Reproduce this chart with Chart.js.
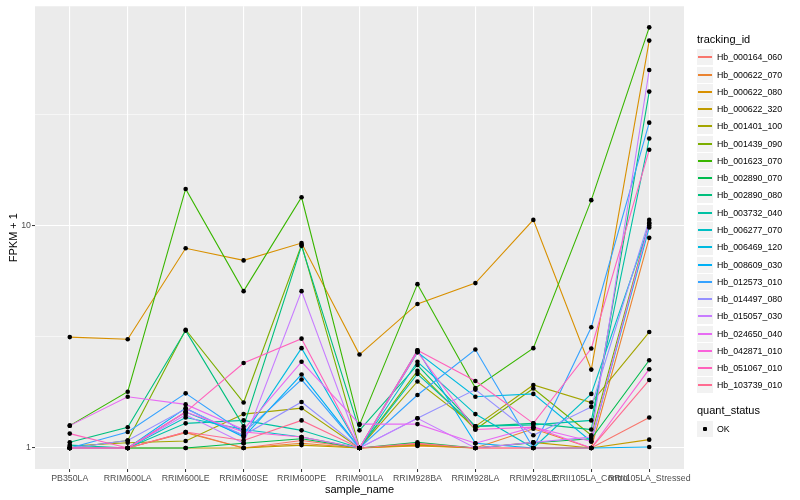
<!DOCTYPE html>
<html>
<head>
<meta charset="utf-8">
<script src="https://cdn.jsdelivr.net/npm/chart.js@4/dist/chart.umd.min.js"></script>
<style>
  html, body { margin: 0; padding: 0; background: #ffffff; }
  #wrap { position: relative; width: 800px; height: 500px; font-family: "Liberation Sans", Arial, Helvetica, sans-serif; }
  canvas { position: absolute; left: 0; top: 0; }
  .lg-title { position: absolute; left: 697px; font-size: 11px; line-height: 13px; color: #000; white-space: nowrap; }
  .lg-key { position: absolute; left: 697px; width: 16px; height: 16px; background: #F2F2F2; }
  .lg-line { position: absolute; left: 1px; right: 1px; top: 7px; height: 2px; }
  .lg-dot { position: absolute; left: 6px; top: 6px; width: 4px; height: 4px; background: #000; border-radius: 1px; }
  .lg-text { position: absolute; left: 717px; font-size: 8.8px; line-height: 10px; color: #000; white-space: nowrap; }
</style>
</head>
<body>
<div id="wrap">
  <canvas id="c" width="800" height="500"></canvas>
</div>
<script>
// ---- data ----
const samples = ["PB350LA","RRIM600LA","RRIM600LE","RRIM600SE","RRIM600PE","RRIM901LA","RRIM928BA","RRIM928LA","RRIM928LE","RRII105LA_Control","RRII105LA_Stressed"];

const trackingIds = ["Hb_000164_060","Hb_000622_070","Hb_000622_080","Hb_000622_320","Hb_001401_100","Hb_001439_090","Hb_001623_070","Hb_002890_070","Hb_002890_080","Hb_003732_040","Hb_006277_070","Hb_006469_120","Hb_008609_030","Hb_012573_010","Hb_014497_080","Hb_015057_030","Hb_024650_040","Hb_042871_010","Hb_051067_010","Hb_103739_010"];

const seriesColors = ["#F8766D","#EA8331","#D89000","#C09B00","#A3A500","#7CAE00","#39B600","#00BB4E","#00BF7D","#00C1A3","#00BFC4","#00BAE0","#00B0F6","#35A2FF","#9590FF","#C77CFF","#E76BF3","#FA62DB","#FF62BC","#FF6C91"];

const Hb_000164_060 = [1.00,1.00,1.18,1.00,1.08,1.00,1.04,1.00,1.00,1.00,1.37];
const Hb_000622_070 = [1.00,1.00,1.17,1.00,1.05,1.00,1.02,1.00,1.22,1.00,8.8];
const Hb_000622_080 = [3.15,3.08,7.9,6.97,8.34,2.63,4.44,5.51,10.6,2.25,67.8];
const Hb_000622_320 = [1.00,1.00,1.00,1.00,1.03,1.00,1.03,1.00,1.06,1.00,1.09];
const Hb_001401_100 = [1.02,1.056,1.075,1.42,1.51,1.00,1.99,1.25,1.92,1.6,3.32];
const Hb_001439_090 = [1.00,1.08,3.4,1.6,8.2,1.00,2.22,1.21,1.85,1.14,10.3];
const Hb_001623_070 = [1.26,1.79,14.6,5.07,13.4,1.27,5.45,1.86,2.81,13.0,77.8];
const Hb_002890_070 = [1.00,1.00,1.00,1.05,1.10,1.00,1.06,1.00,1.055,1.10,2.48];
const Hb_002890_080 = [1.06,1.24,3.37,1.25,8.1,1.20,2.36,1.25,1.29,1.21,40.0];
const Hb_003732_040 = [1.03,1.00,1.29,1.33,1.20,1.00,2.15,1.25,1.27,1.33,24.6];
const Hb_006277_070 = [1.00,1.00,1.37,1.21,1.12,1.00,2.44,1.42,1.00,1.75,10.0];
const Hb_006469_120 = [1.00,1.00,1.45,1.14,2.81,1.00,2.69,1.70,1.75,1.07,9.8];
const Hb_008609_030 = [1.00,1.00,1.51,1.12,2.14,1.00,2.75,1.05,1.00,1.00,1.01];
const Hb_012573_010 = [1.00,1.18,1.76,1.17,2.03,1.00,1.73,2.77,1.00,3.49,29.0];
const Hb_014497_080 = [1.00,1.08,1.50,1.14,1.61,1.00,1.36,1.83,1.14,1.53,10.6];
const Hb_015057_030 = [1.00,1.00,1.41,1.05,5.07,1.00,1.36,1.00,1.06,1.12,50.0];
const Hb_024650_040 = [1.26,1.70,1.57,1.21,2.44,1.28,1.28,1.05,1.24,1.07,10.2];
const Hb_042871_010 = [1.00,1.00,1.45,1.18,1.12,1.00,2.70,1.21,1.24,1.00,2.26];
const Hb_051067_010 = [1.16,1.00,1.45,2.41,3.10,1.00,2.75,2.00,1.29,2.80,21.9];
const Hb_103739_010 = [1.00,1.00,1.18,1.08,1.33,1.00,1.05,1.00,1.00,1.00,2.02];

const seriesValues = [Hb_000164_060,Hb_000622_070,Hb_000622_080,Hb_000622_320,Hb_001401_100,Hb_001439_090,Hb_001623_070,Hb_002890_070,Hb_002890_080,Hb_003732_040,Hb_006277_070,Hb_006469_120,Hb_008609_030,Hb_012573_010,Hb_014497_080,Hb_015057_030,Hb_024650_040,Hb_042871_010,Hb_051067_010,Hb_103739_010];

const yMajorTicks = [1, 10];
const yMinorTicks = [Math.sqrt(10), Math.sqrt(1000)];
const quantStatus = ["OK"];

// ---- chart ----
const FONT = '"Liberation Sans", Arial, Helvetica, sans-serif';
const datasets = [];
seriesValues.forEach((vals, i) => {
  datasets.push({
    type: 'line', label: trackingIds[i],
    data: vals.map((v, j) => ({ x: j, y: v })),
    borderColor: seriesColors[i], backgroundColor: seriesColors[i],
    borderWidth: 1.1, pointRadius: 0, fill: false, tension: 0,
    order: 100 - i
  });
});
seriesValues.forEach((vals, i) => {
  datasets.push({
    type: 'line', label: trackingIds[i] + ' points',
    data: vals.map((v, j) => ({ x: j, y: v })),
    showLine: false, pointRadius: 2.3, pointStyle: 'circle',
    pointBackgroundColor: '#000000', pointBorderWidth: 0, borderWidth: 0,
    order: 0
  });
});

const panelBg = {
  id: 'panelBg',
  beforeDraw(chart) {
    const { ctx, chartArea: a } = chart;
    ctx.save();
    ctx.fillStyle = '#EBEBEB';
    ctx.fillRect(a.left, a.top, a.right - a.left, a.bottom - a.top);
    ctx.restore();
  }
};

const isMajor = v => yMajorTicks.some(t => Math.abs(t - v) < 1e-9);

new Chart(document.getElementById('c'), {
  type: 'line',
  data: { datasets },
  plugins: [panelBg],
  options: {
    responsive: false, animation: false, devicePixelRatio: 1,
    layout: { padding: { left: 0, top: 5, right: 116, bottom: 0 } },
    plugins: { legend: { display: false }, tooltip: { enabled: false } },
    scales: {
      x: {
        type: 'linear', min: -0.6, max: samples.length - 1 + 0.6,
        afterBuildTicks: s => { s.ticks = samples.map((_, i) => ({ value: i })); },
        afterFit: s => { s.height = 31; },
        border: { display: false },
        grid: { color: '#FFFFFF', lineWidth: 1.1, tickLength: 3, tickColor: '#333333', tickWidth: 1 },
        ticks: {
          autoSkip: false, maxRotation: 0, minRotation: 0, padding: 1,
          color: '#4D4D4D', font: { family: FONT, size: 8.8 },
          callback: v => samples[Math.round(v)]
        },
        title: { display: true, text: 'sample_name', color: '#000000', font: { family: FONT, size: 11 }, padding: { top: 0, bottom: 3 } }
      },
      y: {
        type: 'logarithmic', min: Math.pow(10, -0.0946), max: Math.pow(10, 1.9856),
        afterBuildTicks: s => { s.ticks = yMajorTicks.concat(yMinorTicks).sort((a, b) => a - b).map(v => ({ value: v })); },
        afterFit: s => { s.width = 35; },
        border: { display: false },
        grid: {
          color: '#FFFFFF',
          lineWidth: c => (c.tick && isMajor(c.tick.value)) ? 1.1 : 0.55,
          tickLength: 3,
          tickColor: c => (c.tick && isMajor(c.tick.value)) ? '#333333' : 'rgba(0,0,0,0)',
          tickWidth: 1
        },
        ticks: {
          padding: 1, color: '#4D4D4D', font: { family: FONT, size: 8.8 },
          callback: v => isMajor(v) ? String(v) : ''
        },
        title: { display: true, text: 'FPKM + 1', color: '#000000', font: { family: FONT, size: 11 }, padding: { top: 7, bottom: 0 } }
      }
    }
  }
});

// ---- legend (HTML text) ----
const wrap = document.getElementById('wrap');
function add(cls, style, html) {
  const d = document.createElement('div');
  d.className = cls;
  Object.assign(d.style, style);
  if (html !== undefined) d.innerHTML = html;
  wrap.appendChild(d);
  return d;
}
add('lg-title', { top: '33px' }, 'tracking_id');
trackingIds.forEach((id, i) => {
  const cy = 57.3 + 17.27 * i;
  const k = add('lg-key', { top: Math.round(cy - 8) + 'px' });
  const ln = document.createElement('div');
  ln.className = 'lg-line';
  ln.style.background = seriesColors[i];
  k.appendChild(ln);
  add('lg-text', { top: Math.round(cy - 5) + 'px' }, id);
});
add('lg-title', { top: '404px' }, 'quant_status');
quantStatus.forEach((q, i) => {
  const cy = 428.5 + 17.27 * i;
  const k = add('lg-key', { top: Math.round(cy - 8) + 'px' });
  const dot = document.createElement('div');
  dot.className = 'lg-dot';
  k.appendChild(dot);
  add('lg-text', { top: Math.round(cy - 5) + 'px' }, q);
});
</script>
</body>
</html>
